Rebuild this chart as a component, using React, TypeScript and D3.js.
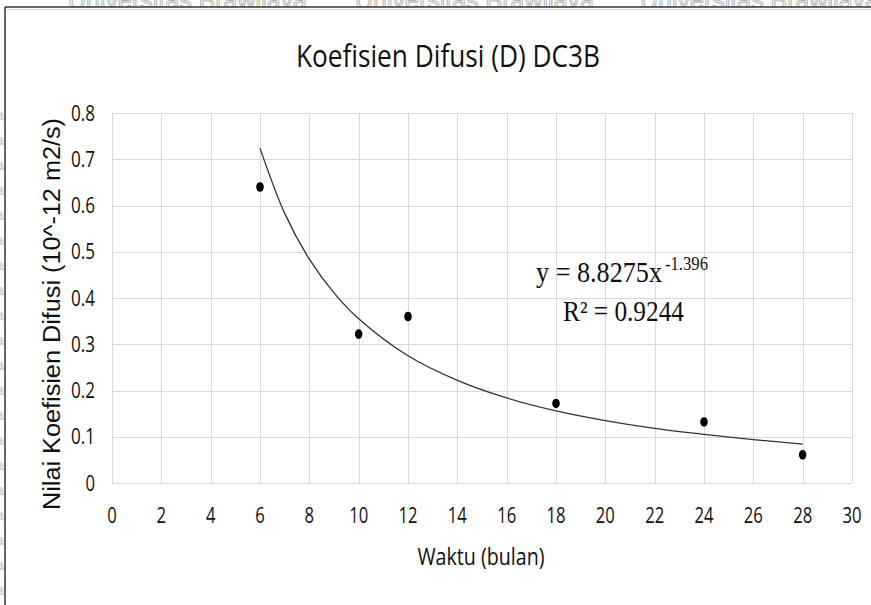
import React, { useEffect, useRef } from 'react';
import * as d3 from 'd3';

// measured points (bulan, D)
const waktu = [6, 10, 12, 18, 24, 28];
const difusi = [0.64, 0.322, 0.36, 0.172, 0.132, 0.061];

// power trendline
const trendX = [6, 7, 8, 9, 10, 12, 14, 16, 18, 20, 22, 24, 26, 28];
const trendY = [0.724, 0.583, 0.484, 0.411, 0.355, 0.275, 0.222, 0.184, 0.156, 0.135, 0.118, 0.105, 0.094, 0.084];

const xTicks = [0, 2, 4, 6, 8, 10, 12, 14, 16, 18, 20, 22, 24, 26, 28, 30];
const yTicks = [0, 0.1, 0.2, 0.3, 0.4, 0.5, 0.6, 0.7, 0.8];

const title = 'Koefisien Difusi (D) DC3B';
const xTitle = 'Waktu (bulan)';
const yTitle = 'Nilai Koefisien Difusi (10^-12 m2/s)';
const eqMain = 'y = 8.8275x';
const eqExp = '-1.396';
const eqR2 = 'R\u00b2 = 0.9244';
const watermark = 'Universitas Brawijaya';

const W = 871;
const H = 605;
const margin = { top: 113, right: 19, bottom: 122, left: 112 };
const narrow = "'Open Sans', 'Noto Sans', sans-serif";

// squeezed width of a tick label, like the condensed font in the picture
const labelWidth = (s: string) => s.split('').reduce((w, c) => w + (c === '.' ? 5 : 9.5), 0);

const App = () => {
  const ref = useRef(null);

  useEffect(() => {
    const svg = d3.select(ref.current);
    svg.selectAll('*').remove();

    const x = d3.scaleLinear().domain([0, 30]).range([margin.left, W - margin.right]);
    const y = d3.scaleLinear().domain([0, 0.8]).range([H - margin.bottom, margin.top]);

    svg.append('rect').attr('width', W).attr('height', H).attr('fill', '#fff');

    // watermark strip on top, mostly cut off
    const wm = svg.append('g')
      .attr('font-family', 'Liberation Sans, Arial, sans-serif')
      .attr('font-size', 25)
      .attr('fill', '#f4f4f4')
      .attr('stroke', '#aaa')
      .attr('stroke-width', 0.8);
    [68, 355, 640].forEach((px) => {
      wm.append('text').attr('x', px).attr('y', 9).text(watermark);
    });

    // left faint watermark column
    const wl = svg.append('g')
      .attr('font-family', 'Liberation Sans, Arial, sans-serif')
      .attr('font-size', 14)
      .attr('fill', 'none')
      .attr('stroke', '#c8c8c8')
      .attr('stroke-width', 0.7);
    d3.range(120, 605, 25).forEach((py) => {
      wl.append('text').attr('x', -4).attr('y', py).text('a');
    });

    svg.append('rect').attr('x', 6).attr('y', 7).attr('width', W).attr('height', H).attr('fill', '#fff');
    svg.append('line').attr('x1', 5).attr('x2', W).attr('y1', 7).attr('y2', 7).attr('stroke', '#333').attr('stroke-width', 1.5);
    svg.append('line').attr('x1', 6).attr('x2', W).attr('y1', 9.5).attr('y2', 9.5).attr('stroke', '#ddd').attr('stroke-width', 1);
    svg.append('line').attr('x1', 5).attr('x2', 5).attr('y1', 7).attr('y2', H).attr('stroke', '#333').attr('stroke-width', 1.5);

    // grid
    const grid = svg.append('g').attr('stroke', '#d9d9d9').attr('stroke-width', 1);
    xTicks.forEach((t) => {
      grid.append('line')
        .attr('x1', Math.round(x(t)) + 0.5)
        .attr('x2', Math.round(x(t)) + 0.5)
        .attr('y1', y(0.8))
        .attr('y2', y(0));
    });
    yTicks.forEach((t) => {
      grid.append('line')
        .attr('x1', x(0))
        .attr('x2', x(30))
        .attr('y1', Math.round(y(t)) + 0.5)
        .attr('y2', Math.round(y(t)) + 0.5);
    });

    // tick labels
    const yFmt = (d: number) => (d === 0 ? '0' : d3.format('.1f')(d));
    svg.append('g')
      .selectAll('text')
      .data(yTicks)
      .enter()
      .append('text')
      .attr('x', 95)
      .attr('y', (d) => y(d) + 7.5)
      .attr('text-anchor', 'end')
      .attr('font-family', narrow)
      .attr('font-size', 21)
      .attr('fill', '#111')
      .attr('textLength', (d) => labelWidth(yFmt(d)))
      .attr('lengthAdjust', 'spacingAndGlyphs')
      .text(yFmt);

    svg.append('g')
      .selectAll('text')
      .data(xTicks)
      .enter()
      .append('text')
      .attr('x', (d) => x(d))
      .attr('y', 523)
      .attr('text-anchor', 'middle')
      .attr('font-family', narrow)
      .attr('font-size', 21)
      .attr('fill', '#111')
      .attr('textLength', (d) => labelWidth(String(d)))
      .attr('lengthAdjust', 'spacingAndGlyphs')
      .text((d) => d);

    // titles
    svg.append('text')
      .attr('x', 448)
      .attr('y', 67)
      .attr('text-anchor', 'middle')
      .attr('font-family', narrow)
      .attr('font-size', 31)
      .attr('fill', '#111')
      .attr('textLength', 304)
      .attr('lengthAdjust', 'spacingAndGlyphs')
      .text(title);

    svg.append('text')
      .attr('x', 481)
      .attr('y', 565)
      .attr('text-anchor', 'middle')
      .attr('font-family', narrow)
      .attr('font-size', 24)
      .attr('fill', '#111')
      .attr('textLength', 127)
      .attr('lengthAdjust', 'spacingAndGlyphs')
      .text(xTitle);

    svg.append('text')
      .attr('transform', 'translate(60, 314) rotate(-90)')
      .attr('text-anchor', 'middle')
      .attr('font-family', 'Liberation Sans, Arial, sans-serif')
      .attr('font-size', 23)
      .attr('fill', '#111')
      .attr('textLength', 392)
      .attr('lengthAdjust', 'spacingAndGlyphs')
      .text(yTitle);

    // trendline
    const line = d3.line<number>()
      .x((d, i) => x(trendX[i]))
      .y((d) => y(d))
      .curve(d3.curveCatmullRom);

    svg.append('path')
      .datum(trendY)
      .attr('d', line)
      .attr('fill', 'none')
      .attr('stroke', '#333')
      .attr('stroke-width', 1.3);

    // points
    svg.append('g')
      .selectAll('ellipse')
      .data(difusi)
      .enter()
      .append('ellipse')
      .attr('cx', (d, i) => x(waktu[i]))
      .attr('cy', (d) => y(d))
      .attr('rx', 3.8)
      .attr('ry', 4.8)
      .attr('fill', '#000');

    // equation
    const serif = "'Liberation Serif', 'Times New Roman', serif";
    svg.append('text')
      .attr('x', 536)
      .attr('y', 282)
      .attr('font-family', serif)
      .attr('font-size', 29)
      .attr('fill', '#111')
      .attr('textLength', 126)
      .attr('lengthAdjust', 'spacingAndGlyphs')
      .text(eqMain);
    svg.append('text')
      .attr('x', 665)
      .attr('y', 270)
      .attr('font-family', serif)
      .attr('font-size', 19)
      .attr('fill', '#111')
      .attr('textLength', 43)
      .attr('lengthAdjust', 'spacingAndGlyphs')
      .text(eqExp);
    svg.append('text')
      .attr('x', 563)
      .attr('y', 321)
      .attr('font-family', serif)
      .attr('font-size', 29)
      .attr('fill', '#111')
      .attr('textLength', 121)
      .attr('lengthAdjust', 'spacingAndGlyphs')
      .text(eqR2);
  }, []);

  return (
    <svg
      ref={ref}
      width={W}
      height={H}
      style={{ position: 'absolute', left: 0, top: 0, display: 'block' }}
    />
  );
};

export default App;
